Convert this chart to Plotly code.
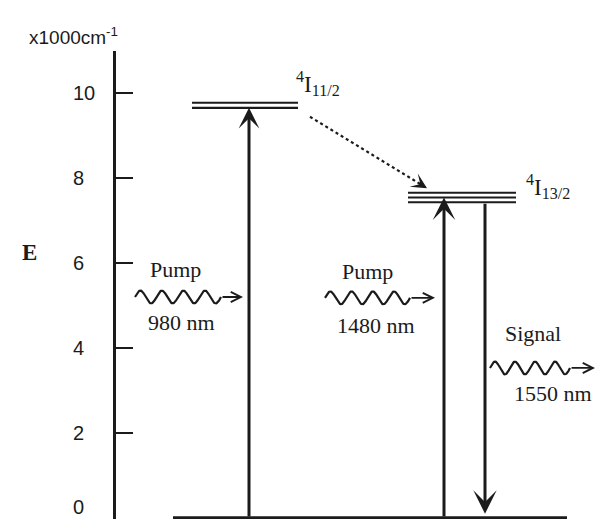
import numpy as np
import plotly.graph_objects as go

# ---- data: Er3+ energy levels (x1000 cm^-1) ----
energy_ticks = [0, 2, 4, 6, 8, 10]
tick_labels = ["0", "2", "4", "6", "8", "10"]

level_11_2 = [9.77, 9.65]          # 4I11/2 manifold sublevels
level_13_2 = [7.65, 7.54, 7.43]    # 4I13/2 manifold sublevels
ground_level = 0.0                 # 4I15/2

pump_980 = (0.0, 9.65)     # absorption 980 nm
pump_1480 = (0.0, 7.54)    # absorption 1480 nm
signal_1550 = (7.43, 0.10) # emission 1550 nm
relaxation = (9.44, 7.76)  # non-radiative decay 4I11/2 -> 4I13/2

level_names = ["<sup>4</sup>I<sub>11/2</sub>", "<sup>4</sup>I<sub>13/2</sub>"]
photon_names = ["Pump", "Pump", "Signal"]
photon_waves = ["980 nm", "1480 nm", "1550 nm"]
photon_heights = [5.2, 5.18, 3.53]

# ---- schematic horizontal layout (arbitrary units) ----
X_UPPER = (76, 182)
X_LOWER = (292, 400)
X_GROUND = (57, 451)
X_980, X_1480, X_SIG = 133, 328, 369
X_RELAX = (194, 311)
WAVES = [(19, 105, 127), (209, 294, 319), (374, 454, 479)]
LABEL_POS = [((59, 5.84), (65, 4.61)), ((251, 5.79), (260, 4.54)), ((417, 4.35), (437, 2.94))]

INK = "#1b1b1b"
SERIF = "Liberation Serif"
SANS = "Liberation Sans"

fig = go.Figure()

def hline(x0, x1, y, width):
    fig.add_trace(go.Scatter(x=[x0, x1], y=[y, y], mode="lines",
                             line=dict(color=INK, width=width),
                             hoverinfo="skip", showlegend=False))

# energy levels
for e in level_11_2:
    hline(*X_UPPER, e, 2.2)
for e in level_13_2:
    hline(*X_LOWER, e, 2)
hline(*X_GROUND, ground_level, 3.4)

annotations = []

def arrow(x, y0, y1, size, width=3):
    annotations.append(dict(x=x, y=y1, ax=x, ay=y0, xref="x", yref="y",
                            axref="x", ayref="y", text="", showarrow=True,
                            arrowhead=3, arrowsize=size, arrowwidth=width,
                            arrowcolor=INK, standoff=0))

arrow(X_980, *pump_980, 1.15)
arrow(X_1480, *pump_1480, 1.25)
arrow(X_SIG, *signal_1550, 1.3)

# non-radiative relaxation: dotted line with arrow head
fig.add_trace(go.Scatter(x=list(X_RELAX), y=list(relaxation), mode="lines",
                         line=dict(color=INK, width=2.2, dash="dot"),
                         hoverinfo="skip", showlegend=False))
dx = X_RELAX[1] - X_RELAX[0]
dy = relaxation[1] - relaxation[0]
annotations.append(dict(x=X_RELAX[1], y=relaxation[1],
                        ax=X_RELAX[1] - 0.08 * dx, ay=relaxation[1] - 0.08 * dy,
                        xref="x", yref="y", axref="x", ayref="y", text="",
                        showarrow=True, arrowhead=3, arrowsize=1.3,
                        arrowwidth=2, arrowcolor=INK, standoff=0))

# photons: wavy lines ending in a straight arrow
amp = 0.15
for (xs, xw, xt), yc in zip(WAVES, photon_heights):
    t = np.linspace(0, 1, 200)
    fig.add_trace(go.Scatter(x=xs + t * (xw - xs),
                             y=yc + amp * np.sin(2 * np.pi * 4 * t),
                             mode="lines", line=dict(color=INK, width=2.2),
                             hoverinfo="skip", showlegend=False))
    annotations.append(dict(x=xt, y=yc, ax=xw, ay=yc, xref="x", yref="y",
                            axref="x", ayref="y", text="", showarrow=True,
                            arrowhead=5, arrowsize=1.1, arrowwidth=1.8,
                            arrowcolor=INK, standoff=0))

for name, wl, ((nx, ny), (wx, wy)) in zip(photon_names, photon_waves, LABEL_POS):
    annotations.append(dict(x=nx, y=ny, xref="x", yref="y", text=name,
                            showarrow=False, font=dict(family=SERIF, size=22, color=INK)))
    annotations.append(dict(x=wx, y=wy, xref="x", yref="y", text=wl,
                            showarrow=False, font=dict(family=SERIF, size=22, color=INK)))

# level names
annotations.append(dict(x=178, y=10.22, xref="x", yref="y", text=level_names[0],
                        xanchor="left", showarrow=False,
                        font=dict(family=SERIF, size=23, color=INK)))
annotations.append(dict(x=408, y=7.8, xref="x", yref="y", text=level_names[1],
                        xanchor="left", showarrow=False,
                        font=dict(family=SERIF, size=23, color=INK)))

# axis tick labels, unit and axis title (placed in paper coordinates,
# left of the energy axis)
PLOT_W, PLOT_H, LEFT, TOP = 481, 468, 116, 51

def px_x(p):
    return (p - LEFT) / PLOT_W

def px_y(p):
    return (TOP + PLOT_H - p) / PLOT_H

for v, lab in zip(energy_ticks, tick_labels):
    annotations.append(dict(x=px_x(71), y=v, xref="paper", yref="y", text=lab,
                            xanchor="left", showarrow=False,
                            yshift=11 if v == 0 else 0,
                            font=dict(family=SANS, size=20, color=INK)))
annotations.append(dict(x=px_x(27), y=px_y(22), xref="paper", yref="paper",
                        text="x1000cm<sup>-1</sup>", xanchor="left", showarrow=False,
                        font=dict(family=SANS, size=19, color=INK)))
annotations.append(dict(x=px_x(20), y=px_y(252), xref="paper", yref="paper",
                        text="<b>E</b>", showarrow=False,
                        font=dict(family=SERIF, size=23, color=INK)))

fig.update_layout(
    width=597, height=519,
    margin=dict(l=LEFT, r=0, t=TOP, b=0),
    paper_bgcolor="white", plot_bgcolor="white",
    annotations=annotations,
    xaxis=dict(range=[0, 481], visible=False, fixedrange=True),
    yaxis=dict(range=[-0.0235, 10.988], showgrid=False, zeroline=False,
               showline=True, linecolor=INK, linewidth=2.5,
               ticks="inside", ticklen=17, tickwidth=2, tickcolor=INK,
               tickvals=energy_ticks, showticklabels=False, fixedrange=True),
)

fig.write_html("out.html")
